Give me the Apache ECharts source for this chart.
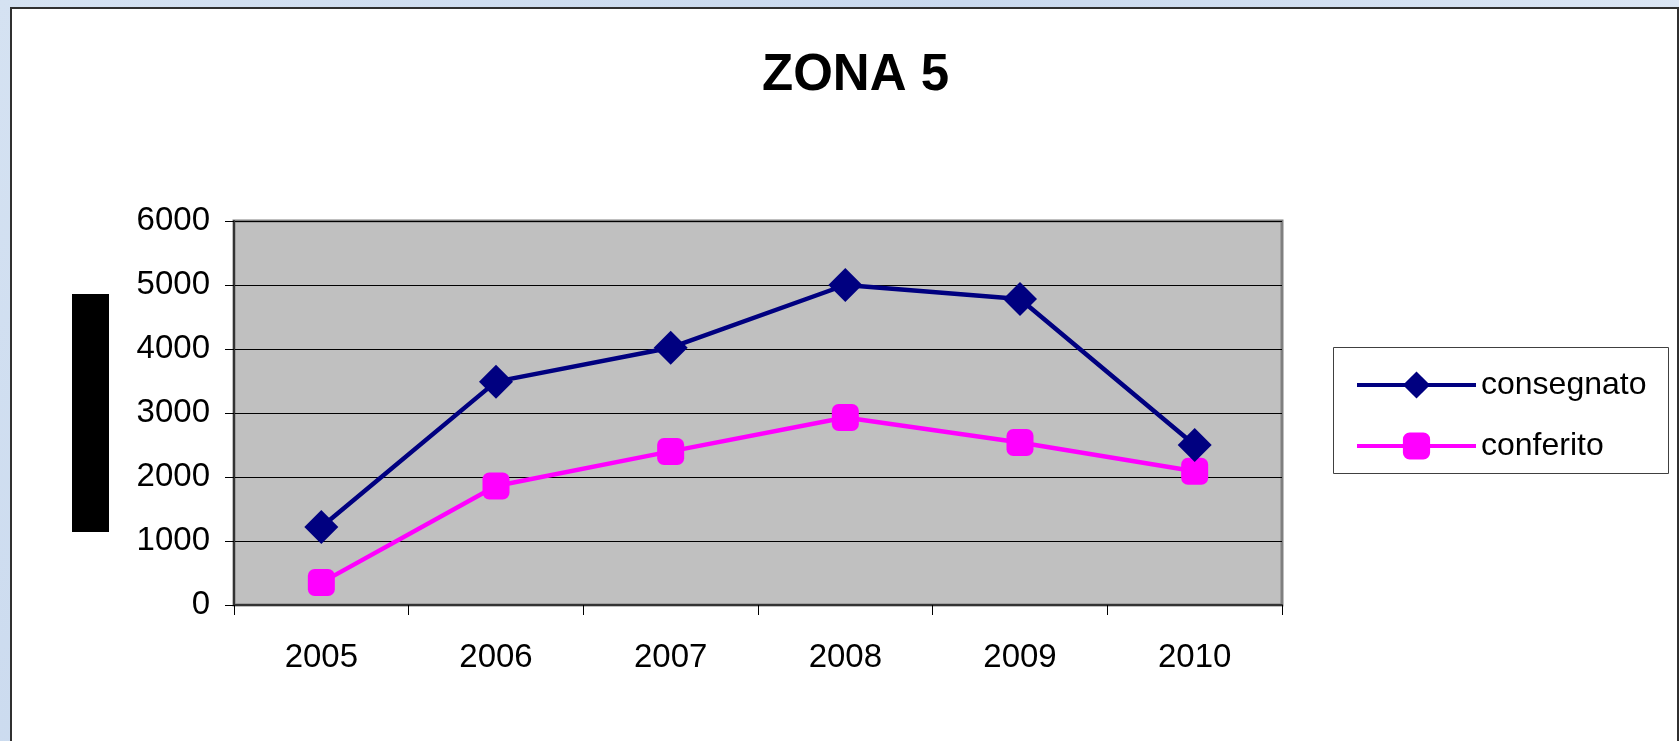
<!DOCTYPE html>
<html>
<head>
<meta charset="utf-8">
<script src="https://cdn.jsdelivr.net/npm/echarts@6/dist/echarts.min.js"></script>
<style>
  html, body { margin: 0; padding: 0; width: 1679px; height: 741px; overflow: hidden;
    background: linear-gradient(135deg, #d5e2f2 0%, #c9d9ee 40%, #dbe6f4 70%, #ccdaee 100%); }
  #panel { position: absolute; left: 10px; top: 7px; width: 1665px; height: 800px; background: #ffffff;
    border-left: 2px solid #303030; border-top: 2px solid #303030; border-right: 2px solid #303030; }
  #chart { position: absolute; left: 0; top: 0; width: 1679px; height: 741px; }
</style>
</head>
<body>
<div id="panel"></div>
<div id="chart"></div>
<script>
const titleText = 'ZONA 5';
const categories = ['2005', '2006', '2007', '2008', '2009', '2010'];
const seriesNames = ['consegnato', 'conferito'];
const consegnato = [1220, 3490, 4020, 5000, 4780, 2500];
const conferito = [350, 1860, 2400, 2930, 2540, 2090];
const yTicks = [0, 1000, 2000, 3000, 4000, 5000, 6000];

const FONT = "'Liberation Sans', Arial, sans-serif";
const chart = echarts.init(document.getElementById('chart'), null, { renderer: 'canvas' });
chart.setOption({
  backgroundColor: 'transparent',
  animation: false,
  title: {
    text: titleText,
    left: 757,
    top: 45,
    textStyle: { fontFamily: FONT, fontSize: 51, fontWeight: 'bold', color: '#000' }
  },
  graphic: [
    { type: 'rect', shape: { x: 72, y: 294, width: 37, height: 238 }, style: { fill: '#000' }, silent: true },
    { type: 'rect', shape: { x: 1333.5, y: 347.5, width: 335, height: 126 }, style: { fill: '#fff', stroke: '#404040', lineWidth: 1 }, silent: true, z: -1 }
  ],
  legend: {
    orient: 'vertical',
    left: 1350,
    top: 364,
    itemWidth: 119,
    itemHeight: 34,
    itemGap: 29,
    data: seriesNames,
    lineStyle: { width: 4 },
    textStyle: { fontFamily: FONT, fontSize: 32, color: '#000', padding: [0, 0, 0, 0] }
  },
  grid: {
    left: 234, top: 221, width: 1048, height: 384,
    show: true, backgroundColor: '#c0c0c0', borderColor: '#808080', borderWidth: 3
  },
  xAxis: {
    type: 'category',
    data: categories,
    boundaryGap: true,
    axisLine: { show: true, lineStyle: { color: '#333', width: 2 } },
    axisTick: { show: true, length: 10, inside: false, lineStyle: { color: '#000', width: 1 } },
    axisLabel: { fontFamily: FONT, fontSize: 33, color: '#000', margin: 36 },
    splitLine: { show: false }
  },
  yAxis: {
    type: 'value',
    min: yTicks[0], max: yTicks[yTicks.length - 1], interval: 1000,
    axisLine: { show: true, lineStyle: { color: '#333', width: 2 } },
    axisTick: { show: true, length: 9, lineStyle: { color: '#000', width: 1 } },
    axisLabel: { fontFamily: FONT, fontSize: 33, color: '#000', margin: 24, formatter: function (v) { return String(v); } },
    splitLine: { show: true, lineStyle: { color: '#000', width: 1 } }
  },
  series: [
    {
      name: seriesNames[0], type: 'line', data: consegnato,
      symbol: 'diamond', symbolSize: 34,
      lineStyle: { color: '#000080', width: 4.5 },
      itemStyle: { color: '#000080' },
      z: 3
    },
    {
      name: seriesNames[1], type: 'line', data: conferito,
      symbol: 'roundRect', symbolSize: 27,
      lineStyle: { color: '#ff00ff', width: 4.5 },
      itemStyle: { color: '#ff00ff' },
      z: 2
    }
  ]
});
</script>
</body>
</html>
